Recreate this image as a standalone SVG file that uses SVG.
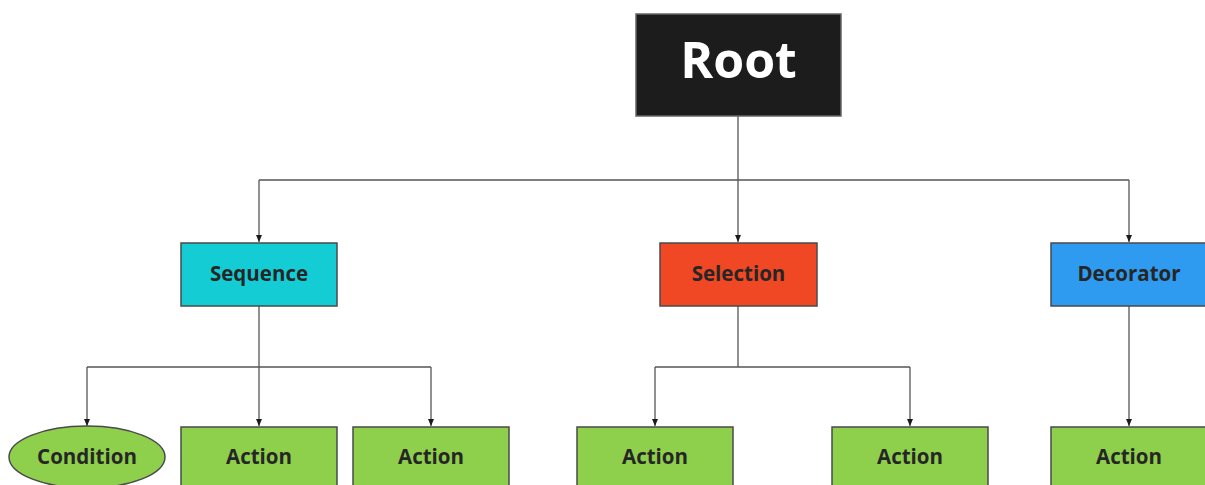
<svg xmlns="http://www.w3.org/2000/svg" width="1205" height="485" viewBox="0 0 1205 485">
<defs>
<marker id="arr" viewBox="0 0 7 6" refX="7" refY="3" markerWidth="7" markerHeight="6" markerUnits="userSpaceOnUse" orient="auto">
<path d="M0,0 L7,3 L0,6 Z" fill="#1a1a1a"/>
</marker>
</defs>
<style>
.box{stroke:#4a4a4a;stroke-width:1.5}
.lbl{font-family:"Open Sans","Liberation Sans",sans-serif;font-weight:bold;font-size:20.5px;fill:#262626;text-anchor:middle}
.edge{fill:none;stroke:#555;stroke-width:1.3}
.act{fill:#8ecf4c}
</style>
<rect width="1205" height="485" fill="#ffffff"/>
<g id="connectors">
<path class="edge" d="M738,116 V180"/>
<path class="edge" d="M259,180 H1129"/>
<path class="edge" d="M259,180 V242" marker-end="url(#arr)"/>
<path class="edge" d="M738,180 V242" marker-end="url(#arr)"/>
<path class="edge" d="M1129,180 V242" marker-end="url(#arr)"/>
<path class="edge" d="M259,306 V367"/>
<path class="edge" d="M87,367 H431"/>
<path class="edge" d="M87,367 V426" marker-end="url(#arr)"/>
<path class="edge" d="M259,367 V426" marker-end="url(#arr)"/>
<path class="edge" d="M431,367 V426" marker-end="url(#arr)"/>
<path class="edge" d="M738,306 V367"/>
<path class="edge" d="M655,367 H910"/>
<path class="edge" d="M655,367 V426" marker-end="url(#arr)"/>
<path class="edge" d="M910,367 V426" marker-end="url(#arr)"/>
<path class="edge" d="M1129,306 V426" marker-end="url(#arr)"/>
</g>
<g id="root">
<rect x="636" y="14" width="205" height="102" fill="#1c1c1c" stroke="#666" stroke-width="1.5"/>
<text x="738.5" y="78" font-family="'Open Sans','Liberation Sans',sans-serif" font-weight="bold" font-size="50" fill="#ffffff" text-anchor="middle">Root</text>
</g>
<g id="sequence">
<rect class="box" x="181" y="243" width="156" height="63" fill="#14cdd4"/>
<text class="lbl" x="259" y="281">Sequence</text>
</g>
<g id="selection">
<rect class="box" x="660" y="243" width="157" height="63" fill="#f04824"/>
<text class="lbl" x="738.5" y="281">Selection</text>
</g>
<g id="decorator">
<rect class="box" x="1051" y="243" width="156" height="63" fill="#2e9bf0"/>
<text class="lbl" x="1129" y="281">Decorator</text>
</g>
<g id="condition">
<ellipse class="box act" cx="87" cy="457" rx="78" ry="31"/>
<text class="lbl" x="87" y="464">Condition</text>
</g>
<g id="action1">
<rect class="box act" x="181" y="427" width="156" height="64"/>
<text class="lbl" x="259" y="464">Action</text>
</g>
<g id="action2">
<rect class="box act" x="353" y="427" width="156" height="64"/>
<text class="lbl" x="431" y="464">Action</text>
</g>
<g id="action3">
<rect class="box act" x="577" y="427" width="156" height="64"/>
<text class="lbl" x="655" y="464">Action</text>
</g>
<g id="action4">
<rect class="box act" x="832" y="427" width="156" height="64"/>
<text class="lbl" x="910" y="464">Action</text>
</g>
<g id="action5">
<rect class="box act" x="1051" y="427" width="156" height="64"/>
<text class="lbl" x="1129" y="464">Action</text>
</g>
</svg>
